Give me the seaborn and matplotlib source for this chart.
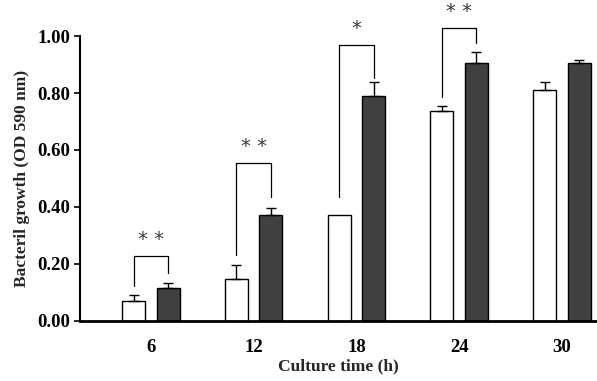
import matplotlib
matplotlib.use("Agg")
import matplotlib.pyplot as plt
import seaborn as sns
import pandas as pd
import numpy as np

# ---- data ----
times = ["6", "12", "18", "24", "30"]
groups = ["Control", "Treated"]
control_mean = [0.071, 0.146, 0.372, 0.736, 0.811]
control_err = [0.021, 0.050, 0.000, 0.019, 0.029]
treated_mean = [0.115, 0.372, 0.788, 0.904, 0.904]
treated_err = [0.019, 0.024, 0.049, 0.039, 0.011]

# significance brackets: group index, top, left leg bottom, right leg bottom, label
sig_idx = [0, 1, 2, 3]
sig_top = [0.229, 0.555, 0.967, 1.027]
sig_left = [0.124, 0.232, 0.436, 0.787]
sig_right = [0.168, 0.436, 0.851, 0.974]
sig_label = ["* *", "* *", "*", "* *"]

df = pd.DataFrame({
    "time": times * 2,
    "group": [groups[0]] * 5 + [groups[1]] * 5,
    "value": control_mean + treated_mean,
})

sns.set_theme(style="white")
plt.rcParams["font.family"] = ["Liberation Serif", "DejaVu Serif"]

fig = plt.figure(figsize=(5.97, 3.81), dpi=100)
ax = fig.add_axes([0.134, 0.1575, 0.864, 0.748])

sns.barplot(data=df, x="time", y="value", hue="group", order=times,
            hue_order=groups, palette=["white", "#404040"], width=0.67,
            gap=0.335, edgecolor="black", linewidth=1.0, errorbar=None,
            legend=False, ax=ax)

errs = [control_err, treated_err]
means = [control_mean, treated_mean]
centers = []
for cont in list(ax.containers)[:2]:
    centers.append([p.get_x() + p.get_width() / 2 for p in cont.patches])

for ci in range(2):
    for x, m, e in zip(centers[ci], means[ci], errs[ci]):
        if e > 0:
            ax.errorbar([x], [m], yerr=[[0], [e]], fmt="none", ecolor="black",
                        elinewidth=1.0, capsize=3.5, capthick=1.0, clip_on=False)

for gi, top, lb, rb, lab in zip(sig_idx, sig_top, sig_left, sig_right, sig_label):
    xl = centers[0][gi]
    xr = centers[1][gi]
    ax.plot([xl, xl, xr, xr], [lb, top, top, rb], color="black", lw=0.9,
            clip_on=False)
    ax.text((xl + xr) / 2, top + 0.025, lab, ha="center", va="bottom",
            fontsize=14, color="#3a3a3a", family=["DejaVu Sans"],
            clip_on=False)

ax.set_xlim(-0.69, 4.33)
ax.set_ylim(0, 1.0)
ax.set_yticks([0, 0.2, 0.4, 0.6, 0.8, 1.0])
ax.set_yticklabels(["0.00", "0.20", "0.40", "0.60", "0.80", "1.00"])
for sp in ["top", "right"]:
    ax.spines[sp].set_visible(False)
ax.spines["left"].set_linewidth(1.5)
ax.spines["bottom"].set_linewidth(2.0)
ax.spines["left"].set_color("black")
ax.spines["bottom"].set_color("black")
ax.tick_params(axis="y", which="both", left=True, length=4, width=1.2,
               direction="out", labelsize=13.5, pad=3, colors="black")
ax.tick_params(axis="x", bottom=False, labelsize=13.5, pad=7, colors="black")
for lbl in ax.get_xticklabels() + ax.get_yticklabels():
    lbl.set_fontweight("bold")
ax.set_xlabel("Culture time (h)", fontsize=12.5, fontweight="bold", labelpad=2)
ax.set_ylabel("Bacteril growth (OD 590 nm)", fontsize=12.5, fontweight="bold",
              labelpad=5)

fig.savefig("out.png", dpi=100)
